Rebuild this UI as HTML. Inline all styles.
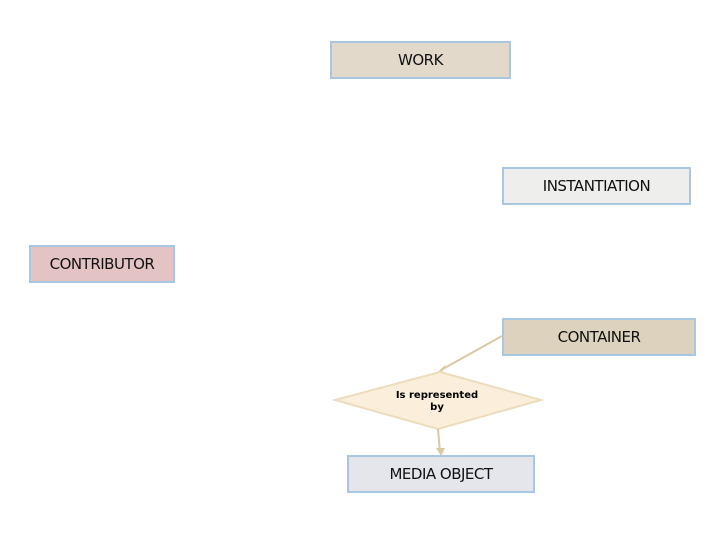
<!DOCTYPE html>
<html><head><style>
body{margin:0;width:720px;height:540px;background:#fff;position:relative;overflow:hidden;font-family:"DejaVu Sans","Liberation Sans",sans-serif;}
.b{position:absolute;box-sizing:border-box;border:2px solid #a9c6e3;display:flex;align-items:center;justify-content:center;font-size:15px;color:#111;letter-spacing:-0.5px;}
</style></head><body>
<div class="b" style="left:330px;top:41px;width:181px;height:38px;background:#e2d9cb;">WORK</div>
<div class="b" style="left:502px;top:167px;width:189px;height:38px;background:#eeeeec;">INSTANTIATION</div>
<div class="b" style="left:29px;top:245px;width:146px;height:38px;background:#e3c3c3;">CONTRIBUTOR</div>
<div class="b" style="left:502px;top:318px;width:194px;height:38px;background:#ddd2bd;">CONTAINER</div>
<div class="b" style="left:347px;top:455px;width:188px;height:38px;background:#e4e6ec;">MEDIA OBJECT</div>
<svg width="720" height="540" style="position:absolute;left:0;top:0">
<line x1="502" y1="336" x2="441" y2="370" stroke="#d9c9a4" stroke-width="2"/>
<polygon points="438,372 446,364 442,372" fill="#d9c9a4"/>
<polygon points="440,372 541,400 438,429 335,400" fill="#fbefdb" stroke="#ecdcbc" stroke-width="2"/>
<line x1="438" y1="429" x2="440" y2="452" stroke="#d9c9a4" stroke-width="2"/>
<polygon points="436,448 445,448 441,456" fill="#d9c9a4"/>
<text x="437" y="398" font-size="10" font-weight="bold" text-anchor="middle" font-family="DejaVu Sans, sans-serif">Is represented</text>
<text x="437" y="410" font-size="10" font-weight="bold" text-anchor="middle" font-family="DejaVu Sans, sans-serif">by</text>
</svg>
</body></html>
